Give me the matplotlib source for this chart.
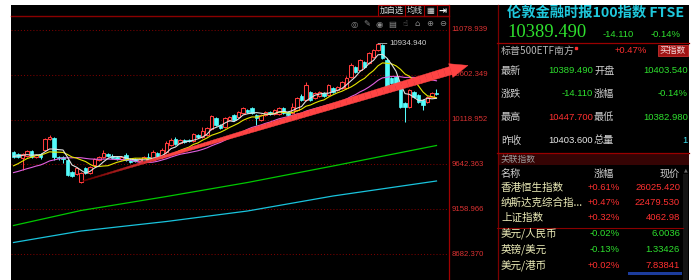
import numpy as np
import pandas as pd
import matplotlib
matplotlib.use("Agg")
import matplotlib.pyplot as plt
from matplotlib.patches import Rectangle, Polygon
from matplotlib.transforms import IdentityTransform, blended_transform_factory
import matplotlib.colors as mcolors

# ---------------- data ----------------
warmup_close = [9474.1, 9452.7, 9495.5, 9463.4, 9442.0, 9484.8, 9506.2, 9474.1, 9495.5, 9516.9,
                9495.5, 9474.1, 9516.9, 9559.7, 9581.1, 9688.1, 9730.9, 9741.5, 9752.2]

opens = [9773.6, 9752.2, 9709.5, 9730.9, 9784.3, 9720.2, 9752.2, 9795.0, 9912.7, 9923.4,
         9720.2, 9720.2, 9688.1, 9559.7, 9538.3, 9452.7, 9602.5, 9549.0, 9634.6, 9688.1,
         9720.2, 9752.2, 9730.9, 9720.2, 9698.8, 9741.5, 9688.1, 9698.8, 9677.4, 9666.7,
         9720.2, 9688.1, 9762.9, 9720.2, 9773.6, 9848.5, 9912.7, 9869.9, 9902.0, 9902.0,
         9891.3, 9955.5, 9934.1, 9955.5, 10019.7, 10137.4, 10062.5, 10041.1, 10116.0, 10169.5,
         10148.1, 10190.9, 10223.0, 10244.4, 10169.5, 10116.0, 10169.5, 10201.6, 10180.2, 10180.2,
         10244.4, 10201.6, 10190.9, 10223.0, 10372.8, 10330.0, 10415.6, 10351.4, 10372.8, 10404.9,
         10383.5, 10458.4, 10437.0, 10458.4, 10458.4, 10576.1, 10683.1, 10651.0, 10736.6, 10725.9,
         10790.1, 10865.0, 10918.4, 10758.0, 10565.4, 10576.1, 10490.5, 10297.9, 10255.1, 10415.6,
         10383.5, 10330.0, 10308.6, 10362.1, 10403.54]
closes = [9720.2, 9720.2, 9752.2, 9784.3, 9720.2, 9741.5, 9720.2, 9912.7, 9934.1, 9720.2,
          9709.5, 9698.8, 9527.6, 9516.9, 9602.5, 9549.0, 9549.0, 9613.2, 9698.8, 9720.2,
          9762.9, 9730.9, 9709.5, 9698.8, 9720.2, 9688.1, 9666.7, 9677.4, 9698.8, 9720.2,
          9677.4, 9773.6, 9709.5, 9795.0, 9869.9, 9902.0, 9859.2, 9902.0, 9880.6, 9891.3,
          9966.2, 9934.1, 9998.3, 10030.4, 10158.8, 10062.5, 10030.4, 10137.4, 10148.1, 10116.0,
          10201.6, 10244.4, 10201.6, 10190.9, 10137.4, 10169.5, 10201.6, 10180.2, 10223.0, 10244.4,
          10190.9, 10169.5, 10255.1, 10351.4, 10330.0, 10490.5, 10330.0, 10404.9, 10415.6, 10372.8,
          10490.5, 10415.6, 10469.1, 10522.6, 10565.4, 10704.5, 10629.6, 10758.0, 10683.1, 10832.8,
          10865.0, 10929.1, 10779.4, 10479.8, 10511.9, 10490.5, 10255.1, 10255.1, 10437.0, 10362.1,
          10308.6, 10276.5, 10362.1, 10403.6, 10389.49]
highs = [9784.3, 9762.9, 9762.9, 9795.0, 9795.0, 9752.2, 9762.9, 9923.4, 9955.5, 9934.1,
         9730.9, 9730.9, 9698.8, 9570.4, 9613.2, 9559.7, 9613.2, 9623.9, 9709.5, 9730.9,
         9795.0, 9762.9, 9752.2, 9730.9, 9730.9, 9762.9, 9709.5, 9709.5, 9709.5, 9730.9,
         9762.9, 9795.0, 9773.6, 9816.4, 9891.3, 9923.4, 9934.1, 9912.7, 9912.7, 9912.7,
         9976.9, 9966.2, 10041.1, 10041.1, 10169.5, 10148.1, 10073.2, 10148.1, 10158.8, 10180.2,
         10212.3, 10255.1, 10233.7, 10255.1, 10180.2, 10180.2, 10212.3, 10212.3, 10233.7, 10255.1,
         10255.1, 10212.3, 10297.9, 10362.1, 10394.2, 10522.6, 10426.3, 10415.6, 10426.3, 10415.6,
         10501.2, 10469.1, 10479.8, 10533.3, 10586.8, 10725.9, 10693.8, 10768.7, 10747.3, 10843.5,
         10875.7, 10934.94, 10929.1, 10779.4, 10576.1, 10586.8, 10501.2, 10308.6, 10447.7, 10426.3,
         10394.2, 10340.7, 10372.8, 10415.6, 10447.70]
lows = [9709.5, 9709.5, 9581.1, 9720.2, 9709.5, 9709.5, 9698.8, 9784.3, 9902.0, 9688.1,
        9688.1, 9656.0, 9516.9, 9506.2, 9527.6, 9442.0, 9538.3, 9538.3, 9623.9, 9677.4,
        9709.5, 9720.2, 9698.8, 9688.1, 9688.1, 9677.4, 9656.0, 9666.7, 9666.7, 9656.0,
        9666.7, 9677.4, 9698.8, 9709.5, 9762.9, 9837.8, 9848.5, 9859.2, 9869.9, 9880.6,
        9880.6, 9923.4, 9923.4, 9944.8, 10009.0, 10051.8, 10019.7, 10030.4, 10105.3, 10105.3,
        10137.4, 10180.2, 10190.9, 10180.2, 10062.5, 10105.3, 10158.8, 10169.5, 10169.5, 10169.5,
        10180.2, 10158.8, 10180.2, 10212.3, 10319.3, 10319.3, 10319.3, 10340.7, 10362.1, 10362.1,
        10372.8, 10404.9, 10426.3, 10447.7, 10447.7, 10565.4, 10618.9, 10640.3, 10672.4, 10715.2,
        10779.4, 10854.2, 10768.7, 10469.1, 10501.2, 10479.8, 10244.4, 10094.6, 10244.4, 10351.4,
        10297.9, 10223.0, 10297.9, 10351.4, 10382.98]

long_line_idx = [0, 15, 34, 52, 71, 94]
long_line_a = [8987.3, 9147.8, 9297.6, 9447.3, 9623.9, 9843.2]   # green
long_line_b = [8805.4, 8928.4, 9030.1, 9142.4, 9302.9, 9463.4]   # cyan

ytick_vals = [11078.939, 10602.349, 10118.952, 9642.363, 9158.966, 8682.370]
ytick_labels = ["11078.939", "10602.349", "10118.952", "9642.363", "9158.966", "8682.370"]

ARROW_TAIL = (15.4, 9463.0)
ARROW_TIP = (101.0, 10700.0)

title = "伦敦金融时报100指数 FTSE"
last_price = "10389.490"
chg, chg_pct = "-14.110", "-0.14%"
etf_name, etf_pct = "标普500ETF南方", "+0.47%"
quote_labels1 = ["最新", "涨跌", "最高", "昨收"]
quote_values1 = ["10389.490", "-14.110", "10447.700", "10403.600"]
quote_labels2 = ["开盘", "涨幅", "最低", "总量"]
quote_values2 = ["10403.540", "-0.14%", "10382.980", "1"]
rel_names = ["香港恒生指数", "纳斯达克综合指...", "上证指数", "美元/人民币", "英镑/美元", "美元/港币"]
rel_pct = ["+0.61%", "+0.47%", "+0.32%", "-0.02%", "-0.13%", "+0.02%"]
rel_vals = ["26025.420", "22479.530", "4062.98", "6.0036", "1.33426", "7.83841"]

# ---------------- style ----------------
RED = "#ff3c3c"
CYAN = "#54fcfc"
GREEN = "#2ee02e"
GRID = "#7a0000"
CJK = ["Noto Sans CJK SC", "DejaVu Sans"]
NUM = ["Liberation Sans", "DejaVu Sans"]
SYM = ["DejaVu Sans", "Noto Sans CJK SC"]

W, H = 699, 280
fig = plt.figure(figsize=(W / 100, H / 100), dpi=100, facecolor="white")

bg = fig.add_axes([0, 0, 1, 1], zorder=0)
bg.set_xlim(0, W)
bg.set_ylim(H, 0)
bg.axis("off")
bg.add_patch(Rectangle((11, 5), 678, 275, facecolor="black", edgecolor="none"))

# frame lines
bg.plot([11, 449], [16, 16], color="#8b0000", lw=1.0)
bg.plot([449, 449], [5, 280], color="#a00000", lw=0.9)
bg.plot([497.5, 497.5], [5, 280], color="#7a0000", lw=0.9)

# toolbar
bg.add_patch(Rectangle((378, 5), 71, 11, facecolor="black", edgecolor="#a00000", lw=0.8))
for xd in [405, 424, 437]:
    bg.plot([xd, xd], [5, 16], color="#a00000", lw=0.8)
bg.text(391.5, 10.8, "加自选", family=CJK, fontsize=5.8, color="#d8d8d8", ha="center", va="center")
bg.text(414.5, 10.8, "均线", family=CJK, fontsize=5.8, color="#d8d8d8", ha="center", va="center")
bg.text(430.5, 10.8, "▦", family=SYM, fontsize=6, color="#d8d8d8", ha="center", va="center")
bg.text(443, 10.8, "⇥", family=SYM, fontsize=7, color="#f0f0f0", ha="center", va="center", weight="bold")
icons = ["◎", "✎", "◉", "▤", "☝", "⌂", "⊕", "⊖"]
for k, ic in enumerate(icons):
    bg.text(354 + k * 12.7, 24, ic, family=SYM, fontsize=6, color="#8a8a8a", ha="center", va="center")

# ---------------- main chart ----------------
ax = fig.add_axes([11 / W, 0, 438 / W, 264 / H], zorder=1)
ax.patch.set_alpha(0)
ax.set_xlim(-0.556, 96.78)
ax.set_ylim(8404.2, 11228.7)
for s in ax.spines.values():
    s.set_visible(False)
ax.set_xticks([])
ax.set_yticks([])

for v in ytick_vals:
    ax.axhline(v, color=GRID, lw=0.75, ls=(0, (1, 2)), zorder=1)
lab_tr = blended_transform_factory(ax.transAxes, ax.transData)
for v, lab in zip(ytick_vals, ytick_labels):
    ax.text(1 + 2.5 / 438, v, lab, transform=lab_tr, family=NUM, fontsize=5.6,
            color="#dc3232", ha="left", va="center", clip_on=False, zorder=1)

o = np.array(opens); c = np.array(closes); hi = np.array(highs); lo = np.array(lows)
n = len(c)
bw = 0.84
min_h = 9.0
for i in range(n):
    up = c[i] >= o[i]
    col = RED if up else CYAN
    ax.vlines(i, lo[i], hi[i], color=col, lw=0.75, zorder=2)
    b = min(o[i], c[i]); h = max(abs(c[i] - o[i]), min_h)
    if up:
        ax.add_patch(Rectangle((i - bw / 2, b), bw, h, facecolor="black", edgecolor=RED, lw=0.75, zorder=3))
    else:
        ax.add_patch(Rectangle((i - bw / 2, b), bw, h, facecolor=CYAN, edgecolor=CYAN, lw=0.5, zorder=3))

series = pd.Series(warmup_close + closes)
n0 = len(warmup_close)
xs = np.arange(n)
ma5 = series.rolling(5).mean().iloc[n0:].values
ma10 = series.rolling(10).mean().iloc[n0:].values
ma20 = series.rolling(20).mean().iloc[n0:].values
ax.plot(xs, ma20, color="#e060e0", lw=0.8, zorder=4)
ax.plot(xs, ma10, color="#e6e600", lw=0.8, zorder=4)
ax.plot(xs, ma5, color="#e0e0e0", lw=0.8, zorder=4)
ax.plot(long_line_idx, long_line_a, color="#00c800", lw=0.9, zorder=4)
ax.plot(long_line_idx, long_line_b, color="#19c3dc", lw=0.9, zorder=4)

# peak label
pk = int(np.argmax(hi))
ax.annotate(f"{hi[pk]:.3f}", xy=(pk, hi[pk]), xytext=(pk + 2.6, hi[pk]),
            family=NUM, fontsize=5.7, color="#cdcdcd", ha="left", va="center",
            arrowprops=dict(arrowstyle="-", color="#bbbbbb", lw=0.6, shrinkA=0, shrinkB=0),
            zorder=5)

# tapered red arrow
p0 = ax.transData.transform(ARROW_TAIL)
p1 = ax.transData.transform(ARROW_TIP)
d = p1 - p0
L = np.hypot(*d)
u = d / L
nv = np.array([-u[1], u[0]])
head_len = 18.0
pe = p1 - u * head_len
dark = np.array(mcolors.to_rgb("#6e0000"))
bright = np.array(mcolors.to_rgb("#ff4444"))
N = 60
w_start, w_end = 0.5, 4.2
for k in range(N):
    t0, t1 = k / N, (k + 1) / N
    a = p0 + (pe - p0) * t0
    b = p0 + (pe - p0) * t1
    wa = w_start + (w_end - w_start) * t0
    wb = w_start + (w_end - w_start) * t1
    f = min(1.0, t0 / 0.22)
    col = dark + (bright - dark) * f
    poly = [a + nv * wa, b + nv * wb, b - nv * wb, a - nv * wa]
    ax.add_patch(Polygon(poly, closed=True, transform=IdentityTransform(), facecolor=col,
                         edgecolor=col, lw=0.3, clip_on=False, zorder=10))
head = [pe + nv * 7.2, p1, pe - nv * 7.2]
ax.add_patch(Polygon(head, closed=True, transform=IdentityTransform(), facecolor=bright,
                     edgecolor=bright, lw=0.3, clip_on=False, zorder=10))

# ---------------- right panel ----------------
bg.text(507, 12.5, title, family=CJK, fontsize=10.3, weight="bold", color="#1fc8dc", ha="left", va="center")
bg.text(507, 32.5, last_price, family=["Liberation Serif", "DejaVu Serif"], fontsize=13.3, color=GREEN,
        ha="left", va="center")
bg.text(634, 34.5, chg, family=NUM, fontsize=6.8, color=GREEN, ha="right", va="center")
bg.text(681, 34.5, chg_pct, family=NUM, fontsize=6.8, color=GREEN, ha="right", va="center")
bg.plot([497, 689], [43, 43], color="#9a0000", lw=0.9)

bg.text(501, 50.5, etf_name, family=CJK, fontsize=7.2, color="#b4b4b4", ha="left", va="center")
bg.plot([575.5], [47.5], marker="s", ms=2, color="#ff3030")
bg.text(647, 50.5, etf_pct, family=NUM, fontsize=6.8, color="#ff3030", ha="right", va="center")
bg.add_patch(Rectangle((658, 44.5), 30, 11.5, facecolor="#a01414", edgecolor="#c83030", lw=0.6))
bg.text(673, 50.3, "买指数", family=CJK, fontsize=6.3, color="#f5dcdc", ha="center", va="center")

row_y = [70.7, 94, 117.3, 140.5]
col1 = [GREEN, GREEN, "#ff3030", "#e8e8e8"]
col2 = [GREEN, GREEN, GREEN, "#3ce0f0"]
for y, l1, v1, c1, l2, v2, c2 in zip(row_y, quote_labels1, quote_values1, col1,
                                       quote_labels2, quote_values2, col2):
    bg.text(501, y, l1, family=CJK, fontsize=7.3, color="#cfcfcf", ha="left", va="center")
    bg.text(593, y, v1, family=NUM, fontsize=6.8, color=c1, ha="right", va="center")
    bg.text(594, y, l2, family=CJK, fontsize=7.3, color="#cfcfcf", ha="left", va="center")
    bg.text(688, y, v2, family=NUM, fontsize=6.8, color=c2, ha="right", va="center")

bg.plot([497, 689], [152.5, 152.5], color="#9a0000", lw=0.9)
bg.add_patch(Rectangle((498, 153), 191, 12, facecolor="#350404", edgecolor="none"))
bg.text(501, 159, "关联指数", family=CJK, fontsize=6.3, color="#9a9a9a", ha="left", va="center")
bg.text(501, 173.5, "名称", family=CJK, fontsize=7.3, color="#d0d0d0", ha="left", va="center")
bg.text(594, 173.5, "涨幅", family=CJK, fontsize=7.3, color="#d0d0d0", ha="left", va="center")
bg.text(680, 173.5, "现价", family=CJK, fontsize=7.3, color="#d0d0d0", ha="right", va="center")

rel_y = [188, 202.5, 218, 233.5, 249, 265]
for y, nm, pc, vl in zip(rel_y, rel_names, rel_pct, rel_vals):
    colr = "#ff3030" if pc.startswith("+") else GREEN
    bg.text(501, y, nm, family=CJK, fontsize=7.6, color="#ececb8", ha="left", va="center")
    bg.text(620, y, pc, family=NUM, fontsize=6.8, color=colr, ha="right", va="center")
    bg.text(680, y, vl, family=NUM, fontsize=6.8, color=colr, ha="right", va="center")
bg.plot([497, 683], [227.5, 227.5], color="#8a0000", lw=0.8)

# scrollbar bits
bg.text(685.5, 170, "▲", family=SYM, fontsize=3.5, color="#6a6a6a", ha="center", va="center")
bg.add_patch(Rectangle((683, 174), 5, 106, facecolor="#141414", edgecolor="none"))
bg.add_patch(Rectangle((628, 272), 54, 2.5, facecolor="#1c3c9c", edgecolor="none"))

fig.savefig("out.png", dpi=100, facecolor="white")
